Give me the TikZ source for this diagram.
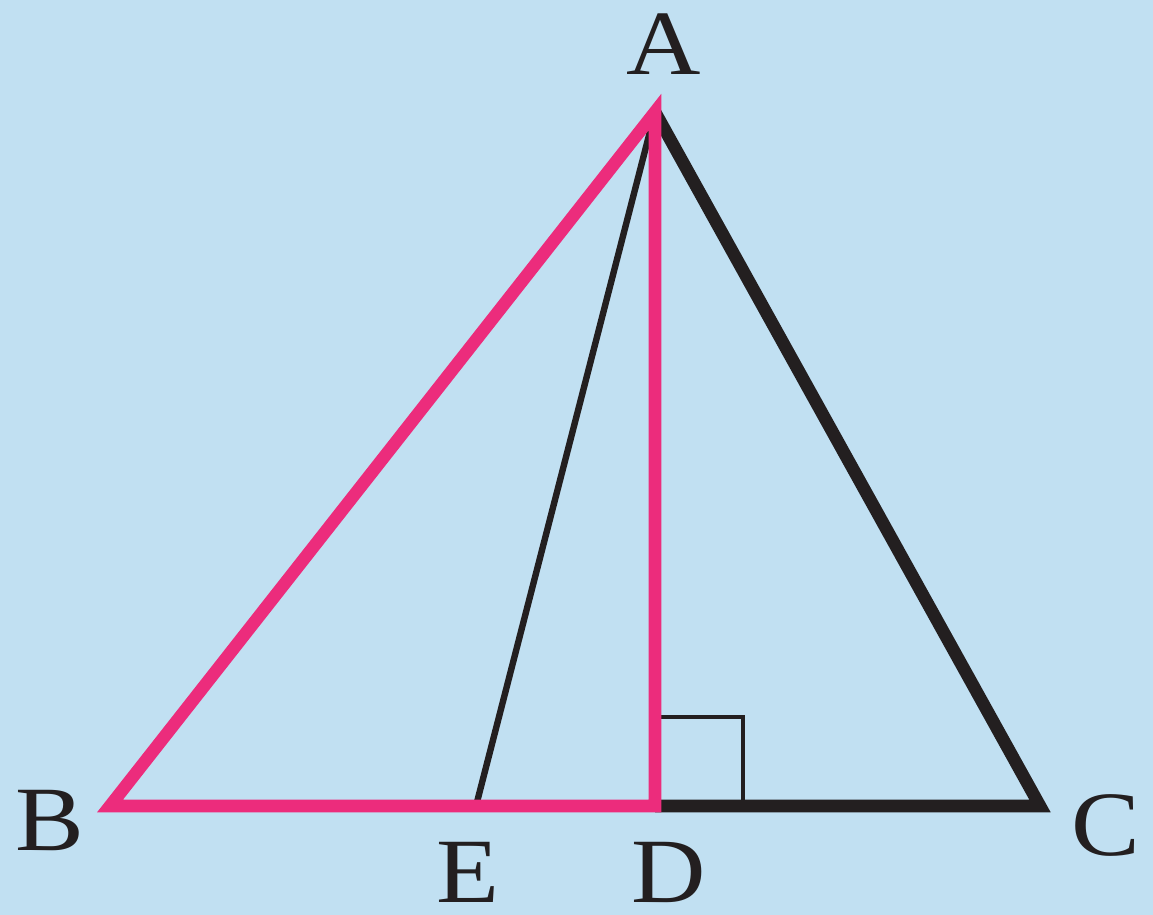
\documentclass[tikz,border=0pt]{standalone}
\usepackage{fontspec}
\setmainfont{Liberation Serif}
\definecolor{bg}{RGB}{193,224,242}
\definecolor{pinkline}{RGB}{236,44,124}
\definecolor{ink}{RGB}{35,31,32}
\tikzset{
  thickblack/.style={draw=ink, line width=6.3pt, line join=miter},
  thinblack/.style={draw=ink, line width=3.2pt},
  sqline/.style={draw=ink, line width=2pt},
  pinktri/.style={draw=pinkline, line width=6.3pt, line join=miter, miter limit=20},
  lab/.style={anchor=base, inner sep=0pt, text=ink, font=\fontsize{46}{46}\selectfont, xscale=1.12}
}
\begin{document}
\begin{tikzpicture}[x=0.5pt,y=-0.5pt]
\fill[bg] (0,0) rectangle (1153,915);
\useasboundingbox (0,0) rectangle (1153,915);
\coordinate (A) at (655,112);
\coordinate (B) at (110,806);
\coordinate (C) at (1040,806);
\coordinate (D) at (655,806);
\coordinate (E) at (476,806);
\coordinate (S1) at (655,717);
\coordinate (S2) at (743,717);
\coordinate (S3) at (743,806);
% black sides
\draw[thickblack, miter limit=20] (A) -- (C) -- (D);
% right-angle mark
\draw[sqline] (S1) -- (S2) -- (S3);
% segment AE
\draw[thinblack] (A) -- (E);
% pink triangle ABD
\draw[pinktri] (A) -- (B) -- (D) -- cycle;
% labels
\node[lab] (lA) at (664,75) {A};
\node[lab] (lB) at (50,850) {B};
\node[lab] (lE) at (468,902) {E};
\node[lab] (lD) at (669,902) {D};
\node[lab] (lC) at (1106,855) {C};
\end{tikzpicture}
\end{document}
